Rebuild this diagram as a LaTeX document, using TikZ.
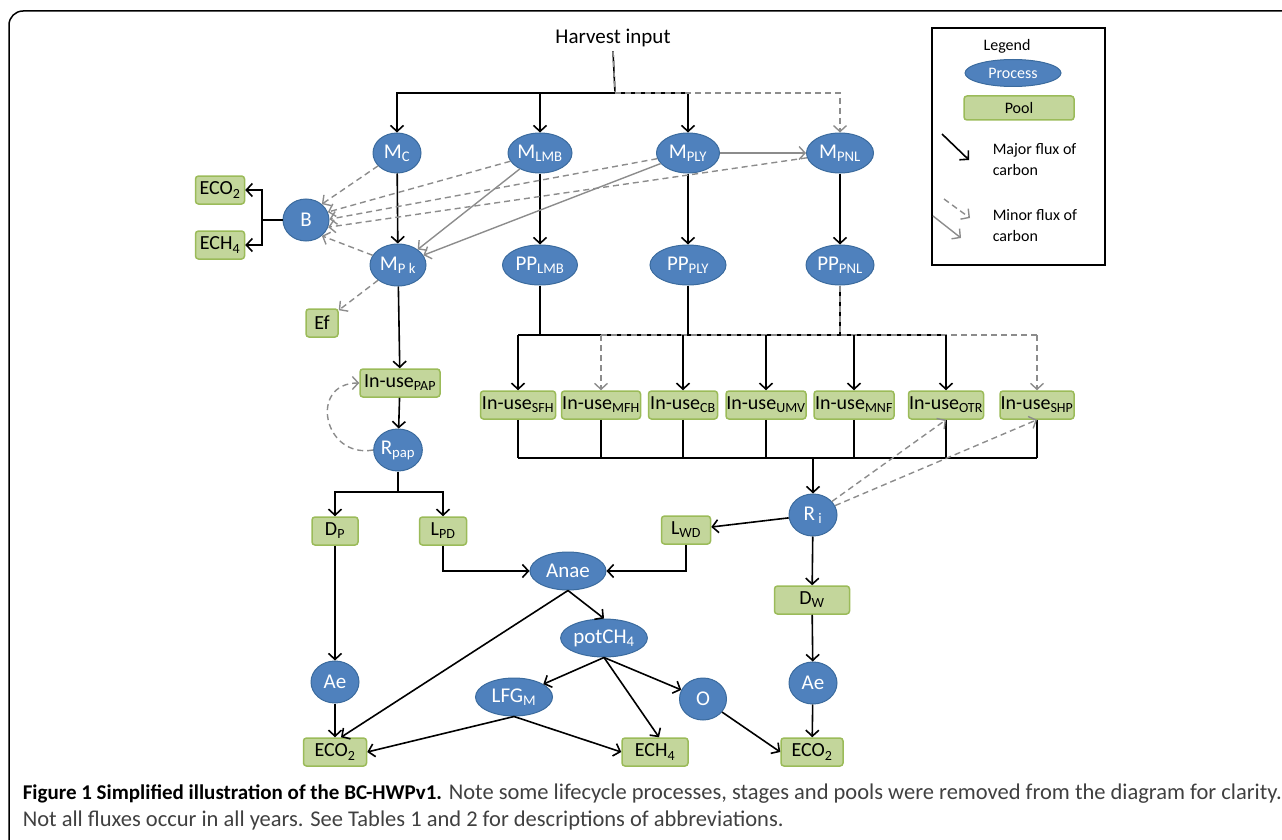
\documentclass[tikz,border=0pt]{standalone}
\usepackage{fontspec}
\setmainfont{Carlito}
\usetikzlibrary{shapes.geometric,arrows.meta}

\definecolor{procfill}{HTML}{4F81BD}
\definecolor{procline}{HTML}{3B6B9E}
\definecolor{poolfill}{HTML}{C3D69B}
\definecolor{poolline}{HTML}{9BBB59}
\definecolor{fluxgray}{HTML}{8C8C8C}

\tikzset{every picture/.style={line width=1.6pt}}
\tikzset{
  proc/.style={ellipse, fill=procfill, draw=procline, line width=1pt,
               text=white, inner sep=0pt, minimum width=#1, minimum height=40pt,
               font=\fontsize{21}{21}\selectfont},
  proc/.default={48pt},
  pool/.style={rectangle, rounded corners=3pt, fill=poolfill, draw=poolline,
               line width=1.5pt, inner sep=0pt, minimum width=#1, minimum height=28pt,
               font=\fontsize{20}{20}\selectfont},
  pool/.default={48pt},
  majflux/.style={-{Straight Barb[length=6pt,width=13pt]}},
  minflux/.style={draw=fluxgray, line width=1.4pt, dash pattern=on 6pt off 4pt,
                  -{Straight Barb[length=6pt,width=13pt]}},
  minline/.style={draw=fluxgray, line width=1.4pt, -{Straight Barb[length=6pt,width=13pt]}},
  mindash/.style={draw=fluxgray, line width=1.4pt, dash pattern=on 6pt off 4pt},
}
\def\ytop{335} % bar above the in-use pools
\def\ybot{458} % bar below the in-use pools

\begin{document}
\begin{tikzpicture}[x=1pt, y=-1pt]
  \useasboundingbox (0,0) rectangle (1282,840);
  % frame
  \draw[line width=1.5pt, rounded corners=14pt] (9,860) -- (9,11) -- (1300,11);

  % harvest and first row of processes
  \node[font=\fontsize{21}{21}\selectfont] (harvest) at (613,38) {Harvest input};
  \coordinate (hub) at (615,93);
  \node[proc=48pt] (mc) at (397,153) {M\textsubscript{C}};
  \node[proc=64pt] (mlmb) at (540,153) {M\textsubscript{LMB}};
  \node[proc=63pt] (mply) at (688,153) {M\textsubscript{PLY}};
  \node[proc=67pt] (mpnl) at (840,153) {M\textsubscript{PNL}};
  % second row
  \node[proc=46pt, minimum height=42pt] (bproc) at (306,220) {B};
  \node[proc=56pt, minimum height=42pt] (mpk) at (398,265) {M\textsubscript{P k}};
  \node[proc=75pt] (pplmb) at (540,265) {PP\textsubscript{LMB}};
  \node[proc=76pt] (ppply) at (688,265) {PP\textsubscript{PLY}};
  \node[proc=68pt] (pppnl) at (840,265) {PP\textsubscript{PNL}};
  \node[pool=49pt] (eco2top) at (220,190) {ECO\textsubscript{2}};
  \node[pool=49pt] (ech4top) at (220,245) {ECH\textsubscript{4}};
  \node[pool=32pt] (ef) at (322,323) {Ef};

  % harvest input to mills
  \draw (harvest.south) -- (hub);
  \draw[mindash] (harvest.south) -- (hub);
  \draw[majflux] (hub) -| (mc);
  \draw[majflux] (hub) -| (mlmb);
  \draw[majflux] (hub) -| (mply);
  \draw[minflux] (hub) -| (mpnl);
  \draw[majflux] (mc) -- (mpk);
  \draw[majflux] (mlmb) -- (pplmb);
  \draw[majflux] (mply) -- (ppply);
  \draw[majflux] (mpnl) -- (pppnl);
  \draw[minline] (mply) -- (mpnl);
  \draw[minline] (mlmb) -- (mpk);
  \draw[minline] (mply) -- (mpk);
  % minor fluxes to B
  \foreach \m/\a in {mc/45,mlmb/20,mply/2,mpnl/-18,mpk/-45}
    \draw[minflux] (\m) -- (bproc.\a);
  \draw[minflux] (mpk) -- (ef);
  \coordinate (bjoin) at (262,220);
  \draw (bproc) -- (bjoin);
  \draw[majflux] (bjoin) |- (eco2top);
  \draw[majflux] (bjoin) |- (ech4top);

  % paper branch
  \node[pool=80pt] (inpap) at (400,383) {In-use\textsubscript{PAP}};
  \node[proc=47pt, minimum height=42pt] (rpap) at (398,450) {R\textsubscript{pap}};
  \node[pool=46pt] (dp) at (335,531) {D\textsubscript{P}};
  \node[pool=47pt] (lpd) at (443,531) {L\textsubscript{PD}};
  \node[proc=48pt, minimum height=42pt] (aeleft) at (335,682) {Ae};
  \node[pool=63pt] (eco2left) at (335,752) {ECO\textsubscript{2}};
  \draw[majflux] (mpk) -- (inpap);
  \draw[majflux] (inpap) -- (rpap);
  \draw[minflux] (rpap.west) to[out=190, in=180, looseness=1.9] (inpap.west);
  \coordinate (rsplit) at (398,492);
  \draw (rpap) -- (rsplit);
  \draw[majflux] (rsplit) -| (dp);
  \draw[majflux] (rsplit) -| (lpd);
  \draw[majflux] (dp) -- (aeleft);
  \draw[majflux] (aeleft) -- (eco2left);

  % in-use pools of solid wood products
  \coordinate (tbar) at (0,\ytop);
  \coordinate (bbar) at (0,\ybot);
  \foreach \n/\x/\w/\s in {sfh/518/75/SFH, mfh/601/79/MFH, cb/683/69/CB,
      umv/766/80/UMV, mnf/854/80/MNF, otr/946/75/OTR, shp/1037/74/SHP}
    \node[pool=\w pt] (in\n) at (\x,405) {In-use\textsubscript{\s}};
  \draw (pplmb) -- (pplmb |- tbar);
  \draw (ppply) -- (ppply |- tbar);
  \draw (pppnl) -- (pppnl |- tbar);
  \draw (insfh |- tbar) -- (inotr |- tbar);
  \draw[mindash] (pppnl) -- (pppnl |- tbar);
  \draw[mindash] (inmfh |- tbar) -- (inshp |- tbar);
  \foreach \n in {sfh,cb,umv,mnf,otr}
    \draw[majflux] (in\n |- tbar) -- (in\n);
  \foreach \n in {mfh,shp}
    \draw[minflux] (in\n |- tbar) -- (in\n);
  \foreach \n in {sfh,mfh,cb,umv,mnf,otr,shp}
    \draw (in\n) -- (in\n |- bbar);
  \draw (insfh |- bbar) -- (inshp |- bbar);

  % end of life of wood products
  \node[proc=48pt, minimum height=42pt] (ri) at (813,515) {R\textsubscript{~i}};
  \node[pool=49pt] (lwd) at (686,530) {L\textsubscript{WD}};
  \node[pool=75pt] (dw) at (812,600) {D\textsubscript{W}};
  \node[proc=48pt, minimum height=42pt] (aeright) at (813,683) {Ae};
  \node[pool=62pt] (eco2right) at (812,752) {ECO\textsubscript{2}};
  \draw[majflux] (ri |- bbar) -- (ri);
  \draw[minflux] (ri) -- (inotr.south);
  \draw[minflux] (ri) -- (inshp.south);
  \draw[majflux] (ri) -- (lwd);
  \draw[majflux] (ri) -- (dw);
  \draw[majflux] (dw) -- (aeright);
  \draw[majflux] (aeright) -- (eco2right);

  % landfill
  \node[proc=76pt, minimum height=38pt] (anae) at (568,571) {Anae};
  \node[proc=84pt, minimum height=38pt] (potch4) at (604,638) {potCH\textsubscript{4}};
  \node[proc=77pt, minimum height=38pt] (lfgm) at (514,697) {LFG\textsubscript{M}};
  \node[proc=47pt, minimum height=42pt] (ox) at (703,699) {O};
  \node[pool=66pt] (ech4) at (655,752) {ECH\textsubscript{4}};
  \draw[majflux] (lpd) |- (anae);
  \draw[majflux] (lwd) |- (anae);
  \draw[majflux] (anae.south) -- ([xshift=6pt]eco2left.north);
  \draw[majflux] (anae.south) -- (potch4.north);
  \draw[majflux] (potch4.south) -- (lfgm);
  \draw[majflux] (potch4.south) -- ([xshift=4pt]ech4.north);
  \draw[majflux] (potch4.south) -- (ox);
  \draw[majflux] (lfgm.south) -- (eco2left.east);
  \draw[majflux] (lfgm.south) -- (ech4.west);
  \draw[majflux] (ox) -- (eco2right.west);

  % legend
  \draw[line width=2.2pt] (932,28) rectangle (1105,265);
  \node[font=\fontsize{16}{16}\selectfont] (legtitle) at (1007,46) {Legend};
  \node[proc=96pt, minimum height=27pt, font=\fontsize{16}{16}\selectfont] (legproc) at (1013,73) {Process};
  \node[pool=110pt, minimum height=24pt, font=\fontsize{16}{16}\selectfont] (legpool) at (1019,108) {Pool};
  \coordinate (majA) at (942,134);
  \coordinate (majB) at (969,160);
  \draw[majflux] (majA) -- (majB);
  \coordinate (minA) at (944,199);
  \coordinate (minB) at (970,218);
  \draw[minflux] (minA) -- (minB);
  \coordinate (minC) at (933,216);
  \coordinate (minD) at (961,238);
  \draw[minline] (minC) -- (minD);
  \node[anchor=west, align=left, inner sep=0pt, font=\fontsize{16}{21}\selectfont] (majtext) at (992,160) {Major flux of\\carbon};
  \node[anchor=west, align=left, inner sep=0pt, font=\fontsize{16}{21}\selectfont] (mintext) at (992,226) {Minor flux of\\carbon};

  % caption
  \node[anchor=base west, inner sep=0pt, text=black!75, font=\fontsize{22.5}{23}\selectfont] (capA) at (22,799)
    {\textcolor{black}{\fontsize{21}{21}\selectfont\bfseries Figure 1 Simplified illustration of the BC-HWPv1.} Note some lifecycle processes, stages and pools were removed from the diagram for clarity.};
  \node[anchor=base west, inner sep=0pt, text=black!75, font=\fontsize{22.5}{23}\selectfont] (capB) at (22,826)
    {Not all fluxes occur in all years. See Tables 1 and 2 for descriptions of abbreviations.};
\end{tikzpicture}
\end{document}
